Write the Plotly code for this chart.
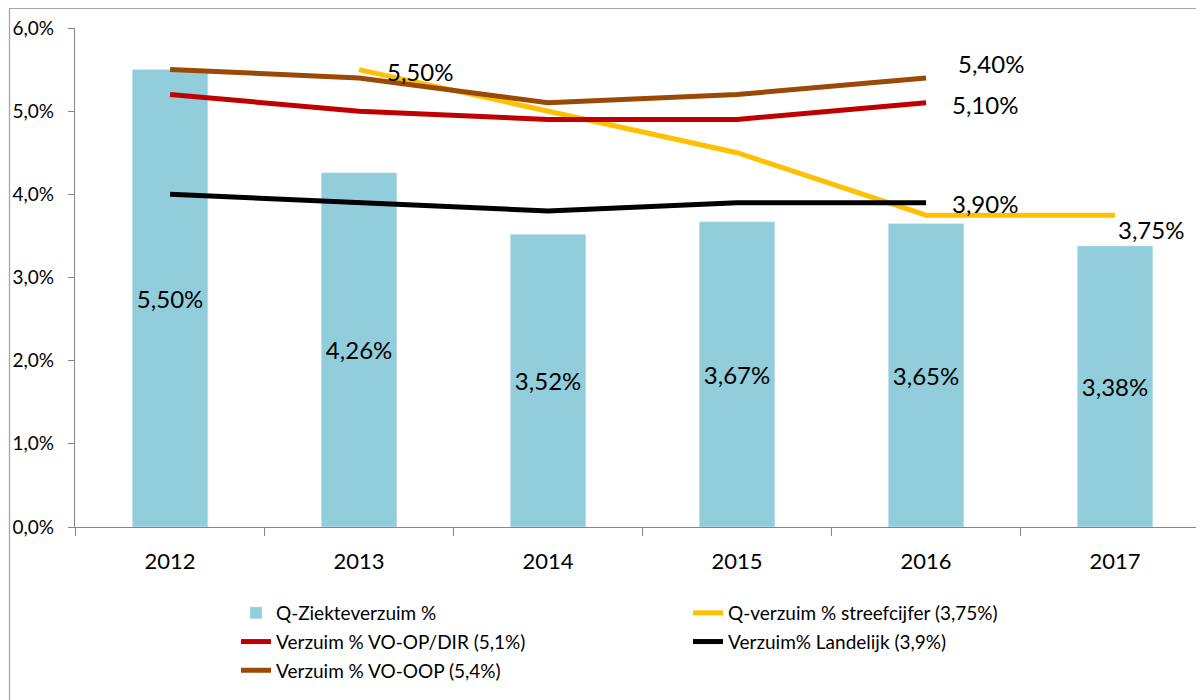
import plotly.graph_objects as go

years = ["2012", "2013", "2014", "2015", "2016", "2017"]
ziekteverzuim = [5.50, 4.26, 3.52, 3.67, 3.65, 3.38]
streefcijfer = [None, 5.50, 5.00, 4.50, 3.75, 3.75]
vo_op_dir = [5.20, 5.00, 4.90, 4.90, 5.10, None]
landelijk = [4.00, 3.90, 3.80, 3.90, 3.90, None]
vo_oop = [5.50, 5.40, 5.10, 5.20, 5.40, None]

names = {
    "bar": "Q-Ziekteverzuim %",
    "streef": "Q-verzuim % streefcijfer (3,75%)",
    "opdir": "Verzuim % VO-OP/DIR (5,1%)",
    "land": "Verzuim% Landelijk (3,9%)",
    "oop": "Verzuim % VO-OOP (5,4%)",
}

FONT = "Lato"
C_BAR = "#92CDDC"
C_YEL = "#FFC000"
C_RED = "#C00000"
C_BLK = "#000000"
C_BRN = "#9A4A06"

def fmt(v):
    return f"{v:.2f}".replace(".", ",") + "%"

fig = go.Figure()
fig.add_trace(go.Bar(
    x=years, y=ziekteverzuim, name=names["bar"], marker_color=C_BAR,
    width=0.4, text=[fmt(v) for v in ziekteverzuim], textposition="inside",
    insidetextanchor="middle", textangle=0, constraintext="none",
    textfont=dict(family=FONT, size=24, color="black"),
    legend="legend", legendgroup="g1",
))
line_specs = [
    (streefcijfer, names["streef"], C_YEL, "legend2", "g2"),
    (vo_op_dir, names["opdir"], C_RED, "legend", "g3"),
    (landelijk, names["land"], C_BLK, "legend2", "g4"),
    (vo_oop, names["oop"], C_BRN, "legend", "g5"),
]
for vals, nm, col, lg, grp in line_specs:
    fig.add_trace(go.Scatter(
        x=years, y=vals, name=nm, mode="lines",
        line=dict(color=col, width=5), legend=lg, legendgroup=grp,
        connectgaps=False,
    ))

# data labels on line series (value read from arrays); x given as category index
labels = [
    (1, streefcijfer[1], 26, -2),
    (5, streefcijfer[5], 1, -14),
    (4, vo_op_dir[4], 24, -2),
    (4, vo_oop[4], 30, 14),
    (4, landelijk[4], 24, -1),
]
for i, v, dx, dy in labels:
    fig.add_annotation(
        x=i, y=v, xref="x", yref="y", text=fmt(v), showarrow=False,
        xanchor="left", yanchor="middle", xshift=dx, yshift=dy,
        font=dict(family=FONT, size=24, color="black"),
    )

# outer chart border
fig.add_shape(type="rect", xref="paper", yref="paper",
              x0=-0.0576, x1=1.01, y0=-0.4, y1=1.0395,
              line=dict(color="#A6A6A6", width=1.3), fillcolor="rgba(0,0,0,0)",
              layer="below")

legend_common = dict(
    orientation="v", xref="container", yref="container",
    xanchor="left", yanchor="top", bgcolor="rgba(0,0,0,0)",
    font=dict(family=FONT, size=19, color="black"),
    tracegroupgap=1, traceorder="grouped",
)

fig.update_layout(
    width=1204, height=700,
    margin=dict(l=67, r=0, t=20, b=181, autoexpand=False),
    paper_bgcolor="white", plot_bgcolor="white",
    separators=",.",
    font=dict(family=FONT, color="black"),
    barmode="overlay",
    showlegend=True,
    legend=dict(x=228 / 1204, y=1 - 586 / 700, **legend_common),
    legend2=dict(x=680 / 1204, y=1 - 586 / 700, **legend_common),
    xaxis=dict(
        type="category", range=[-0.503, 5.513],
        showline=True, linecolor="#868686", linewidth=1.3,
        ticks="outside", tickson="boundaries", ticklen=8, tickcolor="#868686",
        tickwidth=1.3, showgrid=False, zeroline=False,
        tickfont=dict(family=FONT, size=22, color="black"),
        ticklabelstandoff=14,
    ),
    yaxis=dict(
        range=[0, 6], dtick=1, tickformat=".1f", ticksuffix="%",
        showline=True, linecolor="#868686", linewidth=1.3,
        ticks="outside", ticklen=6, tickcolor="#868686", tickwidth=1.3,
        showgrid=False, zeroline=False,
        tickfont=dict(family=FONT, size=19, color="black"),
        ticklabelstandoff=10,
    ),
)

fig.write_html("out.html")
